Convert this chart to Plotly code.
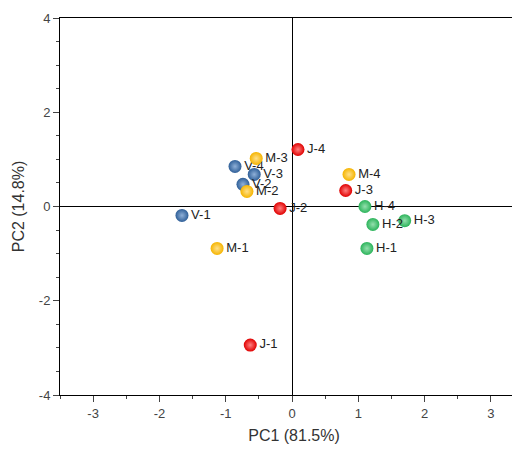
import plotly.graph_objects as go

labels = ["V-1", "V-2", "V-3", "V-4",
          "M-1", "M-2", "M-3", "M-4",
          "J-1", "J-2", "J-3", "J-4",
          "H-1", "H-2", "H-3", "H-4"]
pc1 = [-1.66, -0.74, -0.57, -0.86,
       -1.13, -0.68, -0.54, 0.86,
       -0.63, -0.18, 0.81, 0.09,
       1.13, 1.22, 1.70, 1.10]
pc2 = [-0.19, 0.47, 0.68, 0.85,
       -0.89, 0.32, 1.02, 0.68,
       -2.94, -0.04, 0.34, 1.21,
       -0.89, -0.38, -0.30, 0.00]
x_ticks = [-3, -2, -1, 0, 1, 2, 3]
y_ticks = [-4, -2, 0, 2, 4]
groups = {"V": ("#2f5f98", "#8fb0d8"), "M": ("#f5b400", "#ffe08a"),
          "J": ("#e00000", "#ff8080"), "H": ("#2bb35a", "#95e0ae")}

fig = go.Figure()
for g, (col, hi) in groups.items():
    idx = [i for i, l in enumerate(labels) if l.startswith(g)]
    fig.add_trace(go.Scatter(
        x=[pc1[i] for i in idx], y=[pc2[i] for i in idx],
        text=[labels[i] for i in idx], mode="markers+text",
        textposition="middle right", textfont=dict(size=13, color="#222", family="Arial"),
        marker=dict(size=13, color=col, gradient=dict(type="radial", color=hi),
                    line=dict(width=0)),
        showlegend=False))

axis = dict(showline=True, linecolor="black", linewidth=1, mirror=True, ticks="outside",
            ticklen=6, showgrid=False, zeroline=True, zerolinecolor="black", zerolinewidth=1,
            tickfont=dict(size=13, color="#444", family="Arial"), automargin=False)
# page has an 8px body margin, so offsets are reduced accordingly
fig.update_layout(
    width=520, height=454, plot_bgcolor="white", paper_bgcolor="white",
    margin=dict(l=52, r=0, t=10, b=67),
    xaxis=dict(axis, range=[-3.5, 3.56], tickvals=x_ticks, ticktext=[str(t) for t in x_ticks],
               minor=dict(ticks="outside", ticklen=3, dtick=0.5),
               title=dict(text="PC1 (81.5%)", standoff=10,
                          font=dict(size=16, family="Arial", color="#333"))),
    yaxis=dict(axis, range=[-4, 4], tickvals=y_ticks, ticktext=[str(t) for t in y_ticks],
               minor=dict(ticks="outside", ticklen=3, dtick=0.5),
               title=dict(text="PC2 (14.8%)", standoff=10,
                          font=dict(size=16, family="Arial", color="#333"))),
)
fig.write_html("out.html")
